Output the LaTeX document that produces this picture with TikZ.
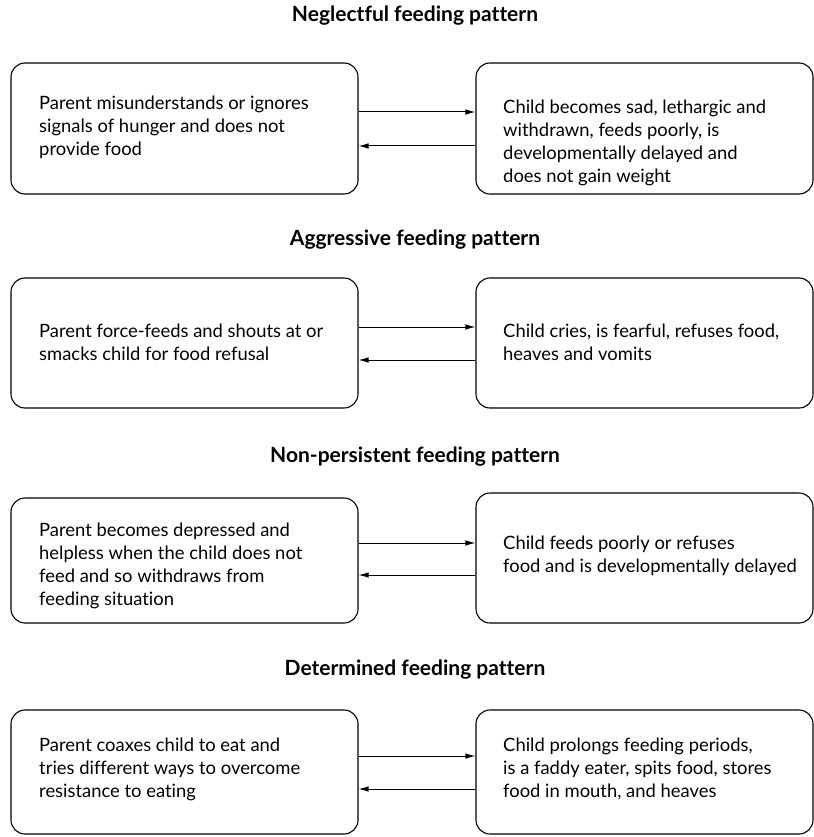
\documentclass[tikz,border=0pt]{standalone}
\usepackage{fontspec}
\setmainfont{Lato}[Ligatures=NoCommon]
\usetikzlibrary{arrows.meta}
\tikzset{
  box/.style={draw, line width=1.1pt, rounded corners=14pt, inner sep=0pt},
  txt/.style={anchor=base west, align=left, inner sep=0pt, font=\fontsize{18.4}{23}\selectfont},
  ttl/.style={anchor=base, inner sep=0pt, font=\fontsize{21}{24}\selectfont\bfseries},
  arr/.style={line width=1pt, -{Latex[length=10pt,width=5.5pt]}}
}
\begin{document}
\begin{tikzpicture}[x=1pt,y=-1pt]
\useasboundingbox (0,0) rectangle (813,837);
% titles
\node[ttl] (t1) at (415,22) {Neglectful feeding pattern};
\node[ttl] (t2) at (415,245) {Aggressive feeding pattern};
\node[ttl] (t3) at (415,462) {Non-persistent feeding pattern};
\node[ttl] (t4) at (415,675) {Determined feeding pattern};
% boxes
\node[box, minimum width=347pt, minimum height=131pt] (L1) at (184.5,128.5) {};
\node[box, minimum width=337pt, minimum height=131pt] (R1) at (644.5,128.5) {};
\node[box, minimum width=347pt, minimum height=130pt] (L2) at (184.5,343) {};
\node[box, minimum width=337pt, minimum height=130pt] (R2) at (644.5,343) {};
\node[box, minimum width=347pt, minimum height=125pt] (L3) at (184.5,560.5) {};
\node[box, minimum width=337pt, minimum height=130pt] (R3) at (644.5,558) {};
\node[box, minimum width=347pt, minimum height=124pt] (L4) at (184.5,772) {};
\node[box, minimum width=337pt, minimum height=124pt] (R4) at (644.5,772) {};
% texts (anchor = baseline of the last line)
\node[txt] (l1) at (39,155.5) {Parent misunderstands or ignores\\signals of hunger and does not\\provide food};
\node[txt] (r1) at (503,182.5) {Child becomes sad, lethargic and\\withdrawn, feeds poorly, is\\developmentally delayed and\\does not gain weight};
\node[txt] (l2) at (39,360) {Parent force-feeds and shouts at or\\smacks child for food refusal};
\node[txt] (r2) at (503,360) {Child cries, is fearful, refuses food,\\heaves and vomits};
\node[txt] (l3) at (39,605) {Parent becomes depressed and\\helpless when the child does not\\feed and so withdraws from\\feeding situation};
\node[txt] (r3) at (503,572) {Child feeds poorly or refuses\\food and is developmentally delayed};
\node[txt] (l4) at (39,797.5) {Parent coaxes child to eat and\\tries different ways to overcome\\resistance to eating};
\node[txt] (r4) at (503,797.5) {Child prolongs feeding periods,\\is a faddy eater, spits food, stores\\food in mouth, and heaves};
% arrows
\draw[arr] (L1.east |- 0,112) -- (R1.west |- 0,112);
\draw[arr] (R1.west |- 0,146) -- (L1.east |- 0,146);
\draw[arr] (L2.east |- 0,327) -- (R2.west |- 0,327);
\draw[arr] (R2.west |- 0,360) -- (L2.east |- 0,360);
\draw[arr] (L3.east |- 0,543) -- (R3.west |- 0,543);
\draw[arr] (R3.west |- 0,575) -- (L3.east |- 0,575);
\draw[arr] (L4.east |- 0,756) -- (R4.west |- 0,756);
\draw[arr] (R4.west |- 0,789) -- (L4.east |- 0,789);
\end{tikzpicture}
\end{document}
